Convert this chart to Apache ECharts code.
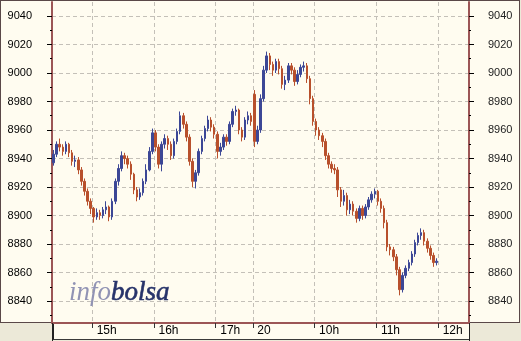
<!DOCTYPE html>
<html><head><meta charset="utf-8">
<script src="https://cdn.jsdelivr.net/npm/echarts@6/dist/echarts.min.js"></script>
<style>
html,body{margin:0;padding:0;background:#ECE9D8;overflow:hidden;}
#panel{position:absolute;left:0;top:0;width:520px;height:323px;box-sizing:border-box;background:#FFFCF0;border:1px solid #5a4848;}
#xbox{position:absolute;left:52px;top:322px;width:418px;height:18px;box-sizing:border-box;background:#FFFCF0;border:1px solid #3a3a3a;border-left:2px solid #222;}
#chart{position:absolute;left:0;top:0;width:521px;height:341px;}
</style></head><body>
<div id="panel"></div><div id="xbox"></div><div id="chart"></div>
<script>
// ---- data ----
const opens = [8937,8943,8950,8948,8945,8950,8944,8938,8939,8932,
 8924,8917,8910,8905,8899,8902,8900,8904,8906,8899,
 8910,8924,8933,8942,8940,8936,8929,8918,8913,8916,
 8924,8932,8945,8958,8948,8936,8950,8954,8950,8942,
 8952,8959,8970,8964,8955,8938,8924,8930,8945,8954,
 8961,8967,8962,8957,8945,8948,8955,8952,8964,8973,
 8974,8960,8955,8967,8970,
 8985,8952,8960,8982,9002, 9012,9006,9002,9008,9003,
 8992,8995,9005,9002,8994, 8999,9004,9005,8996,8982,
 8966,8960,8956,8952,8942, 8936,8933,8932,8918,8910,
 8914,8904,8908,8903,8898, 8905,8900,8906,8911,8915,
 8917,8910,8905,8895,8878, 8876,8871,8862,8848,8858,
 8863,8867,8873,8881,8886, 8888,8882,8877,8872,8867];
const closes = [8943,8950,8948,8945,8950,8944,8938,8939,8932,8924,
 8917,8910,8905,8899,8902,8900,8904,8906,8899,8910,
 8924,8933,8942,8940,8936,8929,8918,8913,8916,8924,
 8932,8945,8958,8948,8936,8950,8954,8950,8942,8952,
 8959,8970,8964,8955,8938,8924,8930,8945,8954,8961,
 8967,8962,8957,8945,8948,8955,8952,8964,8973,8974,
 8960,8955,8967,8970,8966,
 8952,8960,8982,9002,9012, 9006,9002,9008,9003,8992,
 8995,9005,9002,8994,8999, 9004,9005,8996,8982,8966,
 8960,8956,8952,8942,8936, 8933,8932,8918,8910,8914,
 8904,8908,8903,8898,8905, 8900,8906,8911,8915,8917,
 8910,8905,8895,8878,8876, 8871,8862,8848,8858,8863,
 8867,8873,8881,8886,8888, 8882,8877,8872,8867,8868];
const lows = [8935,8941,8945,8942,8943,8941,8935,8934,8929,8921,
 8914,8907,8901,8895,8897,8897,8898,8901,8896,8897,
 8908,8921,8931,8936,8933,8925,8915,8910,8911,8914,
 8922,8931,8943,8945,8933,8931,8947,8946,8939,8940,
 8950,8957,8961,8952,8935,8920,8919,8928,8943,8952,
 8959,8959,8954,8940,8942,8946,8949,8950,8962,8970,
 8957,8952,8953,8964,8963,
 8948,8950,8958,8980,9000, 9002,8998,9000,8999,8989,
 8988,8993,8999,8991,8992, 8997,9001,8993,8978,8963,
 8956,8953,8948,8939,8933, 8930,8929,8913,8906,8907,
 8900,8901,8900,8895,8896, 8897,8898,8904,8909,8912,
 8907,8902,8891,8875,8872, 8868,8858,8844,8846,8856,
 8861,8865,8871,8879,8883, 8879,8874,8869,8864,8865];
const highs = [8946,8952,8954,8950,8952,8951,8946,8942,8941,8934,
 8926,8919,8912,8906,8905,8904,8906,8910,8907,8912,
 8926,8936,8945,8944,8942,8938,8930,8920,8919,8926,
 8936,8948,8961,8960,8950,8952,8957,8956,8952,8954,
 8961,8973,8972,8966,8957,8940,8932,8947,8956,8963,
 8970,8969,8964,8959,8951,8957,8957,8966,8975,8977,
 8975,8962,8969,8973,8972,
 8988,8963,8985,9005,9015, 9014,9008,9010,9010,9005,
 8998,9007,9007,9004,9002, 9006,9008,9007,8998,8984,
 8968,8962,8958,8954,8944, 8938,8936,8934,8920,8918,
 8916,8911,8910,8905,8907, 8907,8908,8913,8917,8919,
 8918,8912,8907,8897,8880, 8878,8873,8864,8860,8865,
 8869,8875,8883,8888,8891, 8890,8884,8879,8874,8870];

const tickTimes = ['15:00','16:00','17:00','09:00','10:00','11:00','12:00'];
const tickTexts = ['15h','16h','17h','20','10h','11h','12h'];
const yTicks = [8840,8860,8880,8900,8920,8940,8960,8980,9000,9020,9040];
const yMinorTicks = [8830,8850,8870,8890,8910,8930,8950,8970,8990,9010,9030];
const Y_MIN = 8824.6, Y_MAX = 9049.8;

// 3-minute slots: day 1 14:21-17:33, day 2 09:00-12:27
function slots(h0, m0, h1, m1, step) {
  const out = [];
  for (let t = h0 * 60 + m0; t <= h1 * 60 + m1; t += step) {
    out.push(String(Math.floor(t / 60)).padStart(2, '0') + ':' + String(t % 60).padStart(2, '0'));
  }
  return out;
}
const categories = slots(14, 21, 17, 33, 3).concat(slots(9, 0, 12, 27, 3));

const candles = closes.map((c, i) => [opens[i], c, lows[i], highs[i]]);

const isTick = (idx, val) => tickTimes.indexOf(val) >= 0;
const FONT = 'Liberation Sans, Arial, sans-serif';
const gridLine = { show: true, lineStyle: { color: '#c4c0b8', type: [4, 3], width: 1 } };
const axisCol = '#9c5656';
const plain = v => String(Math.round(v));

const chart = echarts.init(document.getElementById('chart'), null, { renderer: 'canvas' });
chart.setOption({
  backgroundColor: 'transparent',
  animation: false,
  title: {
    left: 69, top: 279, padding: 0,
    text: '{a|info}{b|bolsa}',
    textStyle: {
      rich: {
        a: { fontFamily: 'Liberation Serif, serif', fontStyle: 'italic', fontWeight: 'normal', fontSize: 27, color: '#9193b4' },
        b: { fontFamily: 'Liberation Serif, serif', fontStyle: 'italic', fontWeight: 'normal', fontSize: 27, color: '#27336a', textBorderColor: '#27336a', textBorderWidth: 0.6 }
      }
    }
  },
  grid: { left: 52, right: 52, top: 2, bottom: 18, containLabel: false },
  xAxis: [{
    type: 'category', data: categories, boundaryGap: true,
    axisLine: { show: true, lineStyle: { color: axisCol, width: 2 } },
    axisTick: { show: true, interval: isTick, length: 5, lineStyle: { color: '#333' } },
    axisLabel: {
      show: true, interval: isTick, align: 'left', padding: [0, 0, 0, 3], margin: 2,
      fontFamily: FONT, fontSize: 12, color: '#000',
      formatter: v => tickTexts[tickTimes.indexOf(v)]
    },
    splitLine: Object.assign({ interval: isTick }, gridLine)
  }, {
    type: 'category', data: categories, boundaryGap: true, position: 'bottom',
    axisLine: { show: false },
    axisTick: { show: true, interval: (i, v) => v === '09:00', length: 18, lineStyle: { color: '#222' } },
    axisLabel: { show: false }, splitLine: { show: false }
  }],
  yAxis: [{
    type: 'value', position: 'left', min: Y_MIN, max: Y_MAX,
    axisLine: { show: true, lineStyle: { color: axisCol, width: 2 } },
    axisTick: { show: true, customValues: yTicks, length: 5, lineStyle: { color: '#000' } },
    axisLabel: { customValues: yTicks, formatter: plain, margin: 20, fontFamily: FONT, fontSize: 11, color: '#000' },
    splitLine: gridLine
  }, {
    type: 'value', position: 'right', min: Y_MIN, max: Y_MAX,
    axisLine: { show: true, lineStyle: { color: axisCol, width: 2 } },
    axisTick: { show: true, customValues: yTicks, length: 5, lineStyle: { color: '#000' } },
    axisLabel: { customValues: yTicks, formatter: plain, margin: 19, fontFamily: FONT, fontSize: 11, color: '#222' },
    splitLine: { show: false }
  }, {
    type: 'value', position: 'left', min: Y_MIN, max: Y_MAX,
    axisLine: { show: false },
    axisTick: { show: true, customValues: yMinorTicks, length: 2, lineStyle: { color: '#000' } },
    axisLabel: { show: false }, splitLine: { show: false }
  }, {
    type: 'value', position: 'right', min: Y_MIN, max: Y_MAX,
    axisLine: { show: false },
    axisTick: { show: true, customValues: yMinorTicks, length: 2, lineStyle: { color: '#000' } },
    axisLabel: { show: false }, splitLine: { show: false }
  }],
  series: [{
    type: 'candlestick', xAxisIndex: 0, yAxisIndex: 0,
    data: candles, barWidth: 2,
    itemStyle: { color: '#3c4796', color0: '#b8502c', borderColor: '#3c4796', borderColor0: '#b8502c', borderWidth: 1 }
  }]
});
</script>
</body></html>
